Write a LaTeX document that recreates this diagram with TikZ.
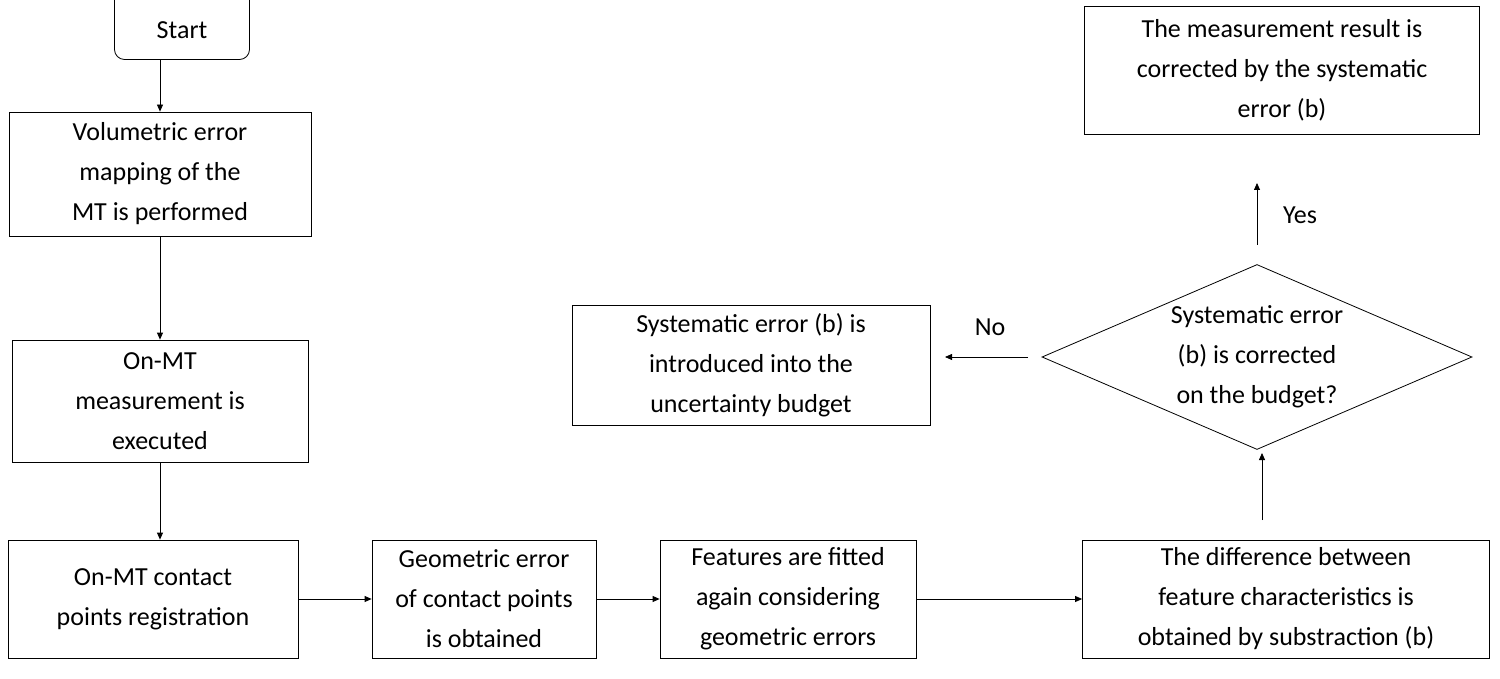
\documentclass[tikz,border=0pt]{standalone}
\usepackage{fontspec}
\setmainfont{Carlito}
\usetikzlibrary{shapes.geometric,arrows.meta}
\begin{document}
\begin{tikzpicture}[x=1pt,y=-1pt,
  txt/.style={font=\fontsize{26}{40}\selectfont,align=center},
  box/.style={draw,thick,align=center,inner sep=0pt,txt},
  arr/.style={-{Triangle[length=7pt,width=6pt]},thick}]
\useasboundingbox (0,0) rectangle (1500,679);
\node[draw,thick,rounded corners=10pt,minimum width=135pt,minimum height=75pt] (start) at (182,22) {};
\node[txt] (starttxt) at (182,30) {Start};
\node[box,minimum width=302pt,minimum height=124pt] (vol) at (160,174) {Volumetric error\\mapping of the\\MT is performed};
\node[box,minimum width=296pt,minimum height=122pt] (onmt) at (160,401) {On-MT\\measurement is\\executed};
\node[box,minimum width=290pt,minimum height=118pt] (cont) at (153,599) {On-MT contact\\points registration};
\node[box,minimum width=224pt,minimum height=118pt] (geo) at (484,599) {Geometric error\\of contact points\\is obtained};
\node[box,minimum width=256pt,minimum height=118pt] (feat) at (788,599) {Features are fitted\\again considering\\geometric errors};
\node[box,minimum width=407pt,minimum height=118pt] (diff) at (1286,599) {The difference between\\feature characteristics is\\obtained by substraction (b)};
\node[draw,thick,diamond,aspect=2.3,minimum width=430pt,minimum height=185pt] (dec) at (1257,357) {};
\node[txt] (dectxt) at (1257,357) {Systematic error\\(b) is corrected\\on the budget?};
\node[box,minimum width=358pt,minimum height=120pt] (sys) at (751,365) {Systematic error (b) is\\introduced into the\\uncertainty budget};
\node[box,minimum width=395pt,minimum height=128pt] (res) at (1282,70) {The measurement result is\\corrected by the systematic\\error (b)};
\coordinate (s1) at (160,60);
\draw[arr] (s1) -- (vol.north -| s1);
\draw[arr] (vol.south) -- (onmt.north);
\draw[arr] (onmt.south) -- (cont.north -| onmt.south);
\draw[arr] (cont) -- (geo);
\draw[arr] (geo) -- (feat);
\draw[arr] (feat) -- (diff);
\coordinate (d1) at (1262,520);
\coordinate (d2) at (1262,453);
\draw[arr] (d1) -- (d2);
\coordinate (y1) at (1257,245);
\coordinate (y2) at (1257,183);
\draw[arr] (y1) -- (y2);
\coordinate (n1) at (1028,357);
\coordinate (n2) at (945,357);
\draw[arr] (n1) -- (n2);
\node[txt] (yes) at (1300,215) {Yes};
\node[txt] (no) at (990,327) {No};
\end{tikzpicture}
\end{document}
